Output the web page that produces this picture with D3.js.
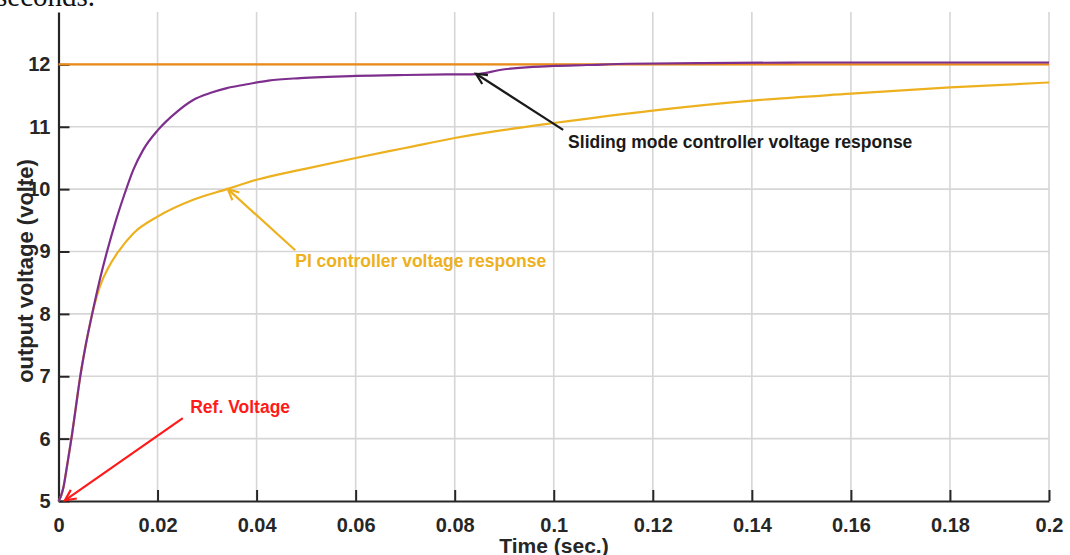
<!DOCTYPE html>
<html lang="en">

<head>
    <script src='https://d3js.org/d3.v7.min.js'></script>
    <style>
        body { margin: 0; background: #fff; }
        text { font-family: "Liberation Sans", Arial, sans-serif; font-weight: bold; }
    </style>
</head>

<body>

    <script>

        // values
        const smcTime = [0, 0.0005, 0.001, 0.0015, 0.002, 0.0027, 0.0035, 0.0043, 0.0055, 0.0068, 0.0082, 0.0098, 0.0116, 0.0132, 0.0151, 0.0171, 0.0201, 0.0239, 0.0272, 0.0306, 0.034, 0.0373, 0.0424, 0.0488, 0.06, 0.07, 0.08, 0.0845, 0.0891, 0.0958, 0.1, 0.1067, 0.115, 0.13, 0.15, 0.17, 0.2];
        const smcVolt = [5, 5.08, 5.22, 5.45, 5.7, 6.05, 6.5, 6.95, 7.5, 8, 8.5, 9, 9.5, 9.89, 10.31, 10.63, 10.95, 11.24, 11.43, 11.54, 11.62, 11.67, 11.74, 11.78, 11.815, 11.83, 11.84, 11.845, 11.91, 11.96, 11.975, 11.99, 12.01, 12.02, 12.03, 12.03, 12.03];

        const piTime = [0, 0.0005, 0.001, 0.0015, 0.002, 0.0027, 0.0035, 0.0043, 0.0055, 0.0068, 0.0084, 0.0102, 0.0121, 0.0151, 0.02, 0.0272, 0.034, 0.04, 0.05, 0.06, 0.07, 0.08, 0.09, 0.1, 0.12, 0.14, 0.16, 0.18, 0.2];
        const piVolt = [5, 5.08, 5.22, 5.45, 5.7, 6.05, 6.5, 6.95, 7.5, 8, 8.45, 8.76, 9, 9.29, 9.56, 9.83, 10, 10.15, 10.33, 10.5, 10.66, 10.82, 10.95, 11.06, 11.26, 11.42, 11.53, 11.63, 11.71];

        const refTime = [0, 0.2];
        const refVolt = [12, 12];

        const xTicks = [0, 0.02, 0.04, 0.06, 0.08, 0.1, 0.12, 0.14, 0.16, 0.18, 0.2];
        const yTicks = [5, 6, 7, 8, 9, 10, 11, 12];

        // annotations: [label, text t, text v, arrow from t, v, arrow to t, v, colour]
        const notes = [
            ["Ref. Voltage", 0.0266, 6.41, 0.0251, 6.33, 0.0013, 5.01, "#ff1a1a"],
            ["PI controller voltage response", 0.0478, 8.75, 0.0478, 9.02, 0.0342, 10.0, "#edb120"],
            ["Sliding mode controller voltage response", 0.1029, 10.66, 0.1019, 10.95, 0.0843, 11.85, "#1a1a1a"]
        ];

        const width = 1070;
        const height = 555;

        const svg = d3.select("body")
            .append("svg")
            .attr("width", width)
            .attr("height", height);

        const x = d3.scaleLinear().domain([0, 0.2]).range([58.5, 1049]);
        const y = d3.scaleLinear().domain([5, 12.84]).range([501, 12]);

        // text cut off from the page above
        svg.append("text")
            .attr("x", -4)
            .attr("y", 6)
            .style("font-family", "'Liberation Serif', serif")
            .style("font-weight", "normal")
            .style("font-size", "29px")
            .attr("fill", "#111")
            .text("seconds.");

        // grid
        svg.append("g")
            .selectAll("line")
            .data(xTicks.slice(1))
            .enter()
            .append("line")
            .attr("x1", d => x(d)).attr("x2", d => x(d))
            .attr("y1", y(12.84)).attr("y2", y(5))
            .attr("stroke", "#d6d6d6")
            .attr("stroke-width", 1.6);

        svg.append("g")
            .selectAll("line")
            .data(yTicks.slice(1))
            .enter()
            .append("line")
            .attr("x1", x(0)).attr("x2", x(0.2))
            .attr("y1", d => y(d)).attr("y2", d => y(d))
            .attr("stroke", "#d6d6d6")
            .attr("stroke-width", 1.6);

        // axes
        const xAxis = d3.axisBottom(x)
            .tickValues(xTicks)
            .tickSizeInner(-11)
            .tickSizeOuter(0)
            .tickPadding(17)
            .tickFormat(d => d3.format("")(+d.toFixed(2)));

        const yAxis = d3.axisLeft(y)
            .tickValues(yTicks)
            .tickSizeInner(-11)
            .tickSizeOuter(0)
            .tickPadding(8);

        const gx = svg.append("g")
            .attr("transform", "translate(0," + y(5) + ")")
            .call(xAxis);

        const gy = svg.append("g")
            .attr("transform", "translate(" + x(0) + ",0)")
            .call(yAxis);

        [gx, gy].forEach(g => {
            g.select(".domain").attr("stroke", "#262626").attr("stroke-width", 2.2);
            g.selectAll(".tick line").attr("stroke", "#262626").attr("stroke-width", 2);
            g.selectAll(".tick text")
                .attr("fill", "#262626")
                .style("font-size", "20px");
        });
        gx.selectAll(".tick text").attr("dy", "0.71em");

        // lines
        const line = d3.line()
            .x(d => x(d[0]))
            .y(d => y(d[1]))
            .curve(d3.curveMonotoneX);

        svg.append("path")
            .datum(d3.zip(refTime, refVolt))
            .attr("fill", "none")
            .attr("stroke", "#ec8a17")
            .attr("stroke-width", 2.2)
            .attr("d", line);

        svg.append("path")
            .datum(d3.zip(piTime, piVolt))
            .attr("fill", "none")
            .attr("stroke", "#edb120")
            .attr("stroke-width", 2.2)
            .attr("d", line);

        svg.append("path")
            .datum(d3.zip(smcTime, smcVolt))
            .attr("fill", "none")
            .attr("stroke", "#7e2f8e")
            .attr("stroke-width", 2.2)
            .attr("d", line);

        // annotations
        const ng = svg.append("g");
        notes.forEach(n => {
            const x1 = x(n[3]), y1 = y(n[4]), x2 = x(n[5]), y2 = y(n[6]);
            const a = Math.atan2(y2 - y1, x2 - x1);
            const len = 12, spread = 0.45;
            ng.append("line")
                .attr("x1", x1).attr("y1", y1)
                .attr("x2", x2).attr("y2", y2)
                .attr("stroke", n[7])
                .attr("stroke-width", 2.2);
            ng.append("path")
                .attr("d", "M" + (x2 - len * Math.cos(a - spread)) + "," + (y2 - len * Math.sin(a - spread)) +
                    "L" + x2 + "," + y2 +
                    "L" + (x2 - len * Math.cos(a + spread)) + "," + (y2 - len * Math.sin(a + spread)))
                .attr("fill", "none")
                .attr("stroke", n[7])
                .attr("stroke-width", 2.2);
            ng.append("text")
                .attr("x", x(n[1]))
                .attr("y", y(n[2]))
                .attr("fill", n[7])
                .style("font-size", "17.5px")
                .text(n[0]);
        });

        // axis titles
        svg.append("text")
            .attr("x", 554)
            .attr("y", 553)
            .attr("text-anchor", "middle")
            .attr("fill", "#262626")
            .style("font-size", "21px")
            .text("Time (sec.)");

        svg.append("text")
            .attr("transform", "translate(33,271) rotate(-90)")
            .attr("text-anchor", "middle")
            .attr("fill", "#262626")
            .style("font-size", "22px")
            .text("output voltage (volte)");

    </script>

</body>

</html>
